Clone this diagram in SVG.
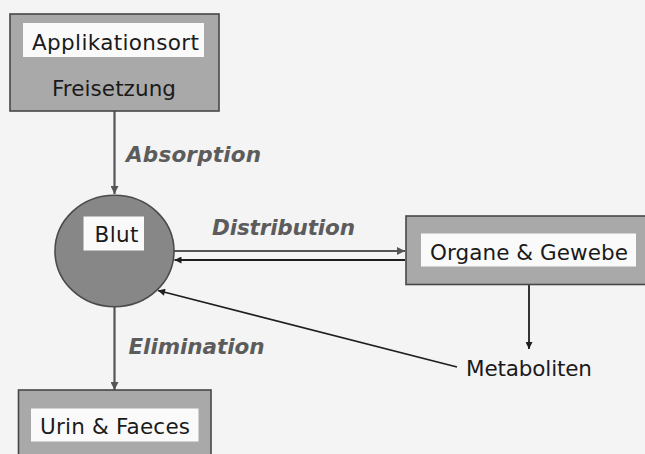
<svg xmlns="http://www.w3.org/2000/svg" width="645" height="454" viewBox="0 0 645 454">
  <style>
    .box { fill: #a9a9a9; stroke: #474747; stroke-width: 1.6; }
    .lbl { fill: #fafafa; }
    .txt { font-family: "DejaVu Sans", Verdana, sans-serif; font-size: 21.5px; fill: #1a1a1a; }
    .edge { font-family: "DejaVu Sans", Verdana, sans-serif; font-size: 21.5px; font-weight: bold; font-style: italic; fill: #5c5c5c; }
    .gline { stroke: #555; stroke-width: 2.2; fill: none; }
    .kline { stroke: #1e1e1e; stroke-width: 1.8; fill: none; }
  </style>
  <defs>
    <marker id="ag" markerUnits="userSpaceOnUse" viewBox="0 0 10 10" refX="10" refY="5" markerWidth="9" markerHeight="8" orient="auto">
      <path d="M0,0 L10,5 L0,10 z" fill="#555"/>
    </marker>
    <marker id="ak" markerUnits="userSpaceOnUse" viewBox="0 0 10 10" refX="10" refY="5" markerWidth="8" markerHeight="7" orient="auto">
      <path d="M0,0 L10,5 L0,10 z" fill="#1e1e1e"/>
    </marker>
  </defs>
  <rect x="0" y="0" width="645" height="454" fill="#f4f4f4"/>

  <g id="connectors">
    <line class="gline" x1="114.5" y1="111" x2="114.5" y2="194" marker-end="url(#ag)"/>
    <line class="gline" x1="174" y1="251" x2="405" y2="251" marker-end="url(#ag)"/>
    <line class="kline" x1="405" y1="260" x2="174.5" y2="260" marker-end="url(#ak)"/>
    <line class="gline" x1="114.5" y1="306.5" x2="114.5" y2="390" marker-end="url(#ag)"/>
    <line class="kline" x1="529" y1="285" x2="529" y2="349" marker-end="url(#ak)"/>
    <line class="kline" x1="457" y1="367" x2="158" y2="290.5" marker-end="url(#ak)"/>
    <text class="edge" x="126" y="162" textLength="135">Absorption</text>
    <text class="edge" x="212" y="235" textLength="143">Distribution</text>
    <text class="edge" x="128.5" y="354" textLength="136">Elimination</text>
  </g>

  <g id="applikationsort">
    <rect class="box" x="10" y="14" width="209" height="97"/>
    <rect class="lbl" x="23" y="23" width="181" height="34"/>
    <text class="txt" x="32" y="50" textLength="167">Applikationsort</text>
    <text class="txt" x="52" y="96" textLength="124">Freisetzung</text>
  </g>

  <g id="blut">
    <ellipse cx="114.5" cy="251" rx="59.5" ry="55.8" fill="#878787" stroke="#4a4a4a" stroke-width="1.6"/>
    <rect class="lbl" x="83.5" y="216.5" width="60.5" height="34"/>
    <text class="txt" x="94.5" y="242" textLength="44">Blut</text>
  </g>

  <g id="organe">
    <rect class="box" x="406" y="216" width="260" height="68.5"/>
    <rect class="lbl" x="421" y="233.5" width="215" height="33"/>
    <text class="txt" x="430" y="259.5" textLength="198">Organe &amp; Gewebe</text>
  </g>

  <g id="metaboliten">
    <text class="txt" x="466" y="376" textLength="126">Metaboliten</text>
  </g>

  <g id="urin">
    <rect class="box" x="18.5" y="390" width="192.5" height="80"/>
    <rect class="lbl" x="31" y="408.5" width="167.5" height="33"/>
    <text class="txt" x="40" y="433.5" textLength="150">Urin &amp; Faeces</text>
  </g>
</svg>
